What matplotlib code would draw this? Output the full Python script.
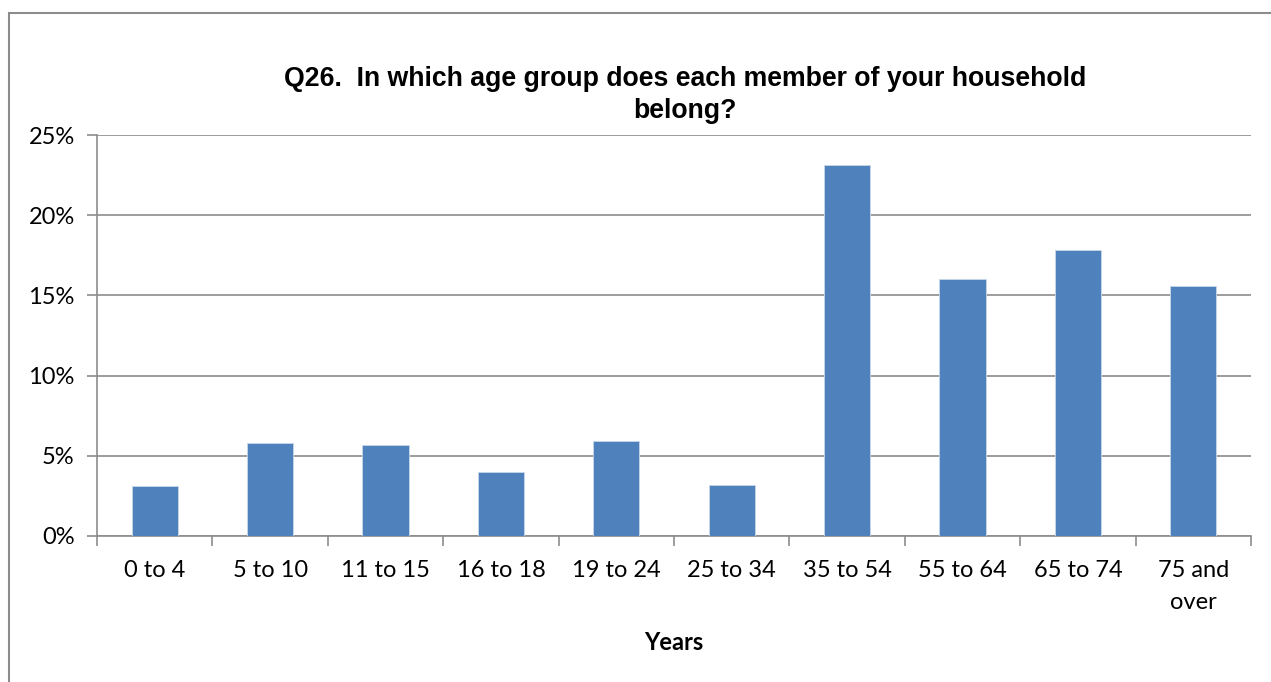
import matplotlib
matplotlib.use('Agg')
import matplotlib.pyplot as plt
from matplotlib.patches import Rectangle
from matplotlib.ticker import FixedLocator, FuncFormatter

# data
categories = ['0 to 4', '5 to 10', '11 to 15', '16 to 18', '19 to 24',
              '25 to 34', '35 to 54', '55 to 64', '65 to 74', '75 and\nover']
shares = [3.1, 5.8, 5.7, 4.0, 5.9, 3.2, 23.1, 16.0, 17.8, 15.6]
y_ticks = [0, 5, 10, 15, 20, 25]

W, H = 1271, 682
fig = plt.figure(figsize=(W / 100, H / 100), dpi=100)
ax = fig.add_axes([97 / W, 1 - 536 / H, (1251 - 97) / W, (536 - 135) / H])

grid_col = '#8c8c8c'
x = list(range(len(categories)))
ax.bar(x, shares, width=0.4, color='#4f81bd', edgecolor='#c9d7ea', linewidth=0.6, zorder=3)

ax.set_xlim(-0.5, len(categories) - 0.5)
ax.set_ylim(0, 25)
ax.yaxis.set_major_locator(FixedLocator(y_ticks))
ax.yaxis.set_major_formatter(FuncFormatter(lambda v, p: f'{v:.0f}%'))
ax.grid(axis='y', color=grid_col, linewidth=1.2, zorder=0)

# category boundaries get the tick marks, labels sit in between
ax.set_xticks([i - 0.5 for i in range(len(categories) + 1)])
ax.set_xticklabels([])
ax.set_xticks(x, minor=True)
ax.set_xticklabels(categories, minor=True, family='Lato', fontsize=17, linespacing=1.66)
ax.tick_params(axis='x', which='minor', length=0, pad=17)
ax.tick_params(axis='x', which='major', length=7, width=1.2, color=grid_col)
ax.tick_params(axis='y', length=7, width=1.2, color=grid_col, pad=9)
for lab in ax.get_yticklabels():
    lab.set_family('Lato')
    lab.set_fontsize(17)

for s in ['top', 'right']:
    ax.spines[s].set_visible(False)
for s in ['left', 'bottom']:
    ax.spines[s].set_color(grid_col)
    ax.spines[s].set_linewidth(1.2)

ax.set_xlabel('Years', family='Lato', fontweight='bold', fontsize=17, labelpad=13)

fig.text(685 / W, 1 - 95 / H, 'Q26.  In which age group does each member of your household\nbelong?',
         ha='center', va='center', family='Liberation Sans', fontweight='bold',
         fontsize=19.2, linespacing=1.25)

# outer chart frame (runs off the right and bottom edge)
fig.patches.append(Rectangle((9 / W, -0.1), 1.2, 1 - 13 / H + 0.1, transform=fig.transFigure,
                             fill=False, edgecolor='#8c8c8c', linewidth=1.5))

fig.savefig('out.png', dpi=100, facecolor='white')
